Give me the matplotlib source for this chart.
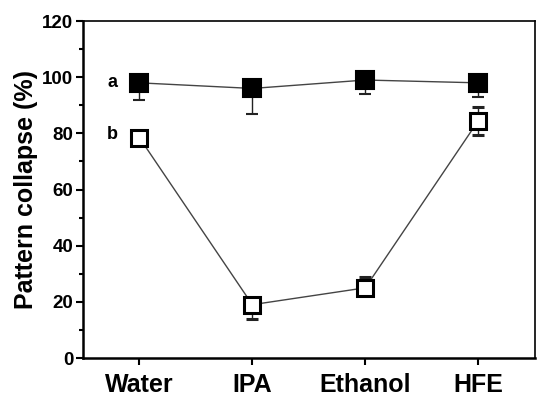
import numpy as np
import matplotlib
matplotlib.use("Agg")
import matplotlib.pyplot as plt
from matplotlib.ticker import MultipleLocator

plt.rcParams['font.family'] = ['Liberation Sans', 'DejaVu Sans']
plt.rcParams['font.weight'] = 'bold'

solvents = ["Water", "IPA", "Ethanol", "HFE"]
a_vals = [98, 96, 99, 98]
a_err_lo = [6, 9, 5, 5]
a_err_hi = [0, 0, 0, 0]
b_vals = [78.5, 19, 25, 84.5]
b_err_lo = [2, 5, 0, 5]
b_err_hi = [1, 0, 4, 5]

fig = plt.figure(figsize=(5.38, 4.05), dpi=100)
ax = fig.add_axes([0.154, 0.116, 0.840, 0.832])
x = np.arange(len(solvents))

ax.errorbar(x, a_vals, yerr=[a_err_lo, a_err_hi], fmt='s-', color='#444444', lw=1,
            mfc='black', mec='black', ms=12.5, mew=1.5, ecolor='#222222', elinewidth=1,
            capsize=4, zorder=3)
ax.errorbar(x, b_vals, yerr=[b_err_lo, b_err_hi], fmt='s-', color='#444444', lw=1,
            mfc='white', mec='black', ms=11.5, mew=2.2, ecolor='#222222', elinewidth=1,
            capsize=4, zorder=3)

ax.text(-0.24, a_vals[0], 'a', fontsize=13, fontweight='bold', ha='center', va='center')
ax.text(-0.24, b_vals[0] + 1, 'b', fontsize=13, fontweight='bold', ha='center', va='center')

ax.set_xlim(-0.5, 3.5)
ax.set_ylim(0, 120)
ax.set_xticks(x)
ax.set_xticklabels(solvents, fontsize=18, fontweight='bold')
ax.yaxis.set_major_locator(MultipleLocator(20))
ax.yaxis.set_minor_locator(MultipleLocator(10))
for lbl in ax.get_yticklabels():
    lbl.set_fontsize(13.5)
    lbl.set_fontweight('bold')
ax.tick_params(axis='both', which='major', direction='out', length=5, width=1.5, pad=2)
ax.tick_params(axis='y', which='minor', direction='out', length=3, width=1.5)
ax.tick_params(axis='x', pad=6)
ax.set_ylabel('Pattern collapse (%)', fontsize=18, fontweight='bold', labelpad=3)
for side in ['top', 'right']:
    ax.spines[side].set_linewidth(1.2)
for side in ['left', 'bottom']:
    ax.spines[side].set_linewidth(1.8)

fig.savefig('out.png', dpi=100)
